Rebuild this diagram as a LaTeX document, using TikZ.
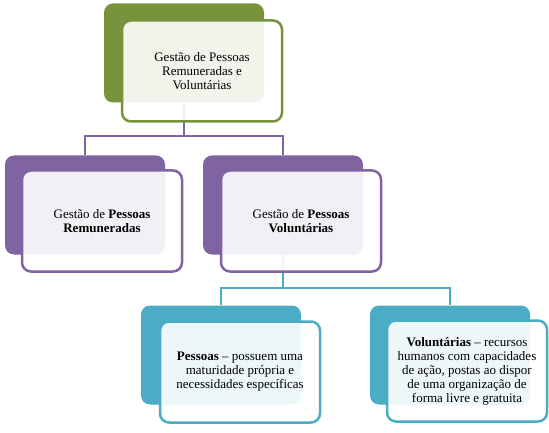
\documentclass[tikz,border=0pt]{standalone}
\usepackage{fontspec}
\setmainfont{Liberation Serif}
\definecolor{olive}{RGB}{119,147,60}
\definecolor{lilac}{RGB}{128,100,162}
\definecolor{teal}{RGB}{75,172,198}
\begin{document}
\begin{tikzpicture}[x=1pt,y=-1pt,
  back/.style={rectangle, rounded corners=9pt, minimum width=160pt, minimum height=99pt, inner sep=0pt, fill=#1},
  front/.style={rectangle, rounded corners=9pt, minimum width=160pt, minimum height=101pt, inner sep=0pt,
    draw=#1, line width=2.5pt, fill=white, fill opacity=.9, text opacity=1, align=center,
    font=\fontsize{13}{14}\selectfont},
  link/.style={draw=#1, line width=2.6pt}]
\useasboundingbox (0,0) rectangle (549,433);
\node[back=olive] (bgTop) at (184,53){};
\node[back=lilac] (bgPaid) at (85,205){};
\node[back=lilac] (bgVol) at (283,205){};
\node[back=teal] (bgPeople) at (221,355){};
\node[back=teal] (bgDef) at (450,355){};
\coordinate (jTop) at (184,136);
\draw[link=lilac](bgTop.south) -- (jTop);
\draw[link=lilac](jTop) -| (bgPaid.north);
\draw[link=lilac](jTop) -| (bgVol.north);
\coordinate (jVol) at (283,288);
\draw[link=teal](bgVol.south) -- (jVol);
\draw[link=teal](jVol) -| (bgPeople.north);
\draw[link=teal](jVol) -| (bgDef.north);
\node[front=olive] (fgTop) at (202,71){Gestão de Pessoas\\Remuneradas e\\Voluntárias};
\node[front=lilac] (fgPaid) at (102,221){Gestão de \textbf{Pessoas}\\\textbf{Remuneradas}};
\node[front=lilac] (fgVol) at (301,221){Gestão de \textbf{Pessoas}\\\textbf{Voluntárias}};
\node[front=teal] (fgPeople) at (240,372){\textbf{Pessoas} -- possuem uma\\maturidade própria e\\necessidades específicas};
\node[front=teal] (fgDef) at (467,371){\textbf{Voluntárias} -- recursos\\humanos com capacidades\\de ação, postas ao dispor\\de uma organização de\\forma livre e gratuita};
\end{tikzpicture}
\end{document}
